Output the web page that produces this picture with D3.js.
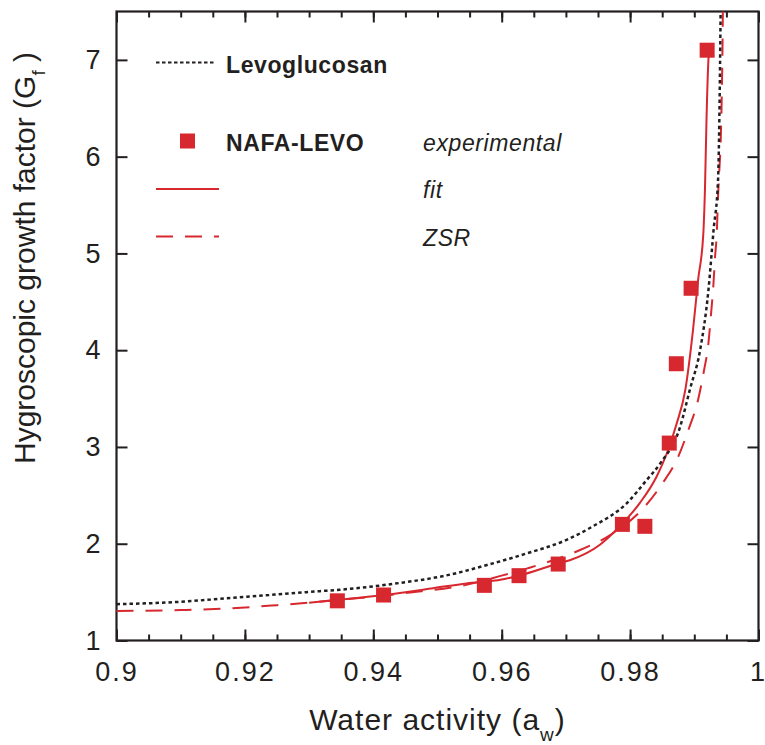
<!DOCTYPE html>
<html>
<head>
<meta charset="utf-8">
<script src="https://cdn.jsdelivr.net/npm/d3@7"></script>
<style>
  body { margin: 0; background: #fff; }
  svg text { font-family: "Liberation Sans", Arial, Helvetica, sans-serif; fill: #231f20; }
</style>
</head>
<body>
<div id="chart"></div>
<script>
// Levoglucosan (dotted black)
const levoAw = [0.900, 0.910, 0.9172, 0.9317, 0.9348, 0.9447, 0.9512, 0.9577, 0.9639, 0.9701, 0.9742,
  0.9795, 0.9826, 0.9847, 0.9878, 0.9893, 0.9909, 0.9922, 0.9930, 0.9937, 0.9939, 0.9941];
const levoGf = [1.375, 1.40, 1.436, 1.51, 1.525, 1.60, 1.67, 1.78, 1.90, 2.04, 2.18,
  2.42, 2.66, 2.83, 3.21, 3.59, 4.00, 4.62, 5.24, 5.76, 6.38, 7.5];

// NAFA-LEVO experimental points
const expAw = [0.9344, 0.9416, 0.9573, 0.9627, 0.9688, 0.9788, 0.9823, 0.9861, 0.9872, 0.9895, 0.9920];
const expGf = [1.41, 1.47, 1.57, 1.67, 1.79, 2.20, 2.18, 3.04, 3.86, 4.64, 7.10];

// NAFA-LEVO fit (solid red)
const fitAw = [0.930, 0.9344, 0.9416, 0.9493, 0.9545, 0.9600, 0.9627, 0.9690, 0.9706, 0.9753, 0.9784,
  0.9815, 0.9841, 0.9857, 0.9872, 0.9886, 0.9898, 0.9906, 0.9914, 0.99167, 0.9919, 0.9922, 0.9923];
const fitGf = [1.39, 1.42, 1.47, 1.54, 1.59, 1.63, 1.67, 1.80, 1.83, 1.99, 2.18,
  2.42, 2.69, 2.93, 3.23, 3.59, 4.21, 4.73, 5.20, 5.69, 6.38, 7.0, 7.1];

// NAFA-LEVO ZSR (dashed red)
const zsrAw = [0.900, 0.910, 0.9172, 0.925, 0.9348, 0.945, 0.9545, 0.9597, 0.964, 0.9722, 0.9769,
  0.9821, 0.9849, 0.9875, 0.9891, 0.9906, 0.99151, 0.99218, 0.9926, 0.99296, 0.99323, 0.9935,
  0.9937, 0.9939, 0.9941, 0.99427, 0.99437, 0.99445];
const zsrGf = [1.305, 1.315, 1.33, 1.365, 1.42, 1.49, 1.575, 1.665, 1.745, 1.935, 2.09,
  2.37, 2.61, 2.90, 3.18, 3.49, 3.79, 4.06, 4.37, 4.66, 4.96, 5.21,
  5.59, 5.86, 6.14, 6.6, 7.0, 7.5];

const xTicks = [0.9, 0.92, 0.94, 0.96, 0.98, 1];
const xTickLabels = ['0.9', '0.92', '0.94', '0.96', '0.98', '1'];
const xMinorTicks = d3.range(0, 21).map(i => 0.9 + i * 0.005);
const yTicks = [1, 2, 3, 4, 5, 6, 7];

const width = 765;
const height = 745;
const plotLeft = 116.5, plotRight = 758.5, plotTop = 11.5, plotBottom = 640.5;
const red = '#d7282f';
const ink = '#231f20';

const svg = d3.select('#chart')
  .append('svg')
  .attr('width', width)
  .attr('height', height);

const x = d3.scaleLinear().domain([0.9, 1]).range([plotLeft, plotRight]);
const y = d3.scaleLinear().domain([1, 7.5]).range([plotBottom, plotTop]);

// Axes: ticks point inward on all four sides
const fmt = d => xTickLabels[xTicks.findIndex(t => Math.abs(t - d) < 1e-9)];

const gx = svg.append('g')
  .attr('transform', `translate(0,${plotBottom})`)
  .call(d3.axisBottom(x).tickValues(xTicks).tickFormat(fmt).tickSizeInner(-11).tickSizeOuter(0).tickPadding(21));
gx.selectAll('text').style('font-size', '27px').style('letter-spacing', '2px');
// last label sits on the right edge: keep it inside the page
gx.selectAll('text').filter(d => d === 1).style('letter-spacing', '0px').attr('dx', -1.5);

svg.append('g')
  .attr('transform', `translate(0,${plotBottom})`)
  .call(d3.axisBottom(x).tickValues(xMinorTicks).tickFormat('').tickSizeInner(-6).tickSizeOuter(0));

svg.append('g')
  .attr('transform', `translate(0,${plotTop})`)
  .call(d3.axisTop(x).tickValues(xTicks).tickFormat('').tickSizeInner(-11).tickSizeOuter(0));
svg.append('g')
  .attr('transform', `translate(0,${plotTop})`)
  .call(d3.axisTop(x).tickValues(xMinorTicks).tickFormat('').tickSizeInner(-6).tickSizeOuter(0));

const gy = svg.append('g')
  .attr('transform', `translate(${plotLeft},0)`)
  .call(d3.axisLeft(y).tickValues(yTicks).tickFormat(d3.format('d')).tickSizeInner(-11).tickSizeOuter(0).tickPadding(16));
gy.selectAll('text').style('font-size', '27px');

svg.append('g')
  .attr('transform', `translate(${plotRight},0)`)
  .call(d3.axisRight(y).tickValues(yTicks).tickFormat('').tickSizeInner(-11).tickSizeOuter(0));

svg.selectAll('.domain').remove();
svg.selectAll('.tick line').attr('stroke', ink).attr('stroke-width', 2);

svg.append('rect')
  .attr('x', plotLeft).attr('y', plotTop)
  .attr('width', plotRight - plotLeft).attr('height', plotBottom - plotTop)
  .attr('fill', 'none').attr('stroke', ink).attr('stroke-width', 2.2);

// Curves
const line = d3.line()
  .x(d => x(d[0]))
  .y(d => y(d[1]))
  .curve(d3.curveMonotoneX);

const plot = svg.append('g');

plot.append('path')
  .datum(zsrAw.map((a, i) => [a, zsrGf[i]]))
  .attr('d', line)
  .attr('fill', 'none').attr('stroke', red).attr('stroke-width', 2)
  .attr('stroke-dasharray', '17,12');

plot.append('path')
  .datum(fitAw.map((a, i) => [a, fitGf[i]]))
  .attr('d', line)
  .attr('fill', 'none').attr('stroke', red).attr('stroke-width', 2);

plot.append('path')
  .datum(levoAw.map((a, i) => [a, levoGf[i]]))
  .attr('d', line)
  .attr('fill', 'none').attr('stroke', ink).attr('stroke-width', 2.5)
  .attr('stroke-dasharray', '3.5,3');

const sq = 15;
plot.selectAll('rect.pt')
  .data(expAw.map((a, i) => [a, expGf[i]]))
  .enter()
  .append('rect')
  .attr('class', 'pt')
  .attr('x', d => x(d[0]) - sq / 2)
  .attr('y', d => y(d[1]) - sq / 2)
  .attr('width', sq).attr('height', sq)
  .attr('fill', red);

// Legend
const lx0 = 156, lx1 = 219, tx = 226, tx2 = 423;
const legend = svg.append('g').style('font-size', '23px').style('letter-spacing', '0.6px');

legend.append('line').attr('x1', lx0).attr('x2', lx1 - 3).attr('y1', 62.5).attr('y2', 62.5)
  .attr('stroke', ink).attr('stroke-width', 2).attr('stroke-dasharray', '3.5,2.5');
legend.append('text').attr('x', tx).attr('y', 73).attr('font-weight', 'bold').text('Levoglucosan');

legend.append('rect').attr('x', 187.5 - sq / 2).attr('y', 141 - sq / 2).attr('width', sq).attr('height', sq).attr('fill', red);
legend.append('text').attr('x', tx).attr('y', 151).attr('font-weight', 'bold').text('NAFA-LEVO');
legend.append('text').attr('x', tx2).attr('y', 151).attr('font-style', 'italic').text('experimental');

legend.append('line').attr('x1', lx0).attr('x2', lx1).attr('y1', 189).attr('y2', 189)
  .attr('stroke', red).attr('stroke-width', 2);
legend.append('text').attr('x', tx2).attr('y', 198).attr('font-style', 'italic').text('fit');

legend.append('line').attr('x1', lx0).attr('x2', lx1).attr('y1', 236.5).attr('y2', 236.5)
  .attr('stroke', red).attr('stroke-width', 2).attr('stroke-dasharray', '17,12');
legend.append('text').attr('x', tx2).attr('y', 246).attr('font-style', 'italic').text('ZSR');

// Axis titles
const xt = svg.append('text')
  .attr('x', (plotLeft + plotRight) / 2).attr('y', 730)
  .attr('text-anchor', 'middle')
  .style('font-size', '30px').style('letter-spacing', '1px');
xt.append('tspan').text('Water activity (a');
xt.append('tspan').attr('dy', 11).style('font-size', '19px').text('w');
xt.append('tspan').attr('dy', -11).text(')');

const yt = svg.append('text')
  .attr('transform', 'rotate(-90)')
  .attr('x', -258).attr('y', 35)
  .attr('text-anchor', 'middle')
  .style('font-size', '30px');
yt.append('tspan').text('Hygroscopic growth factor (G');
yt.append('tspan').attr('dy', 10).style('font-size', '19px').text('f');
yt.append('tspan').attr('dy', -10).text(' )');
</script>
</body>
</html>
